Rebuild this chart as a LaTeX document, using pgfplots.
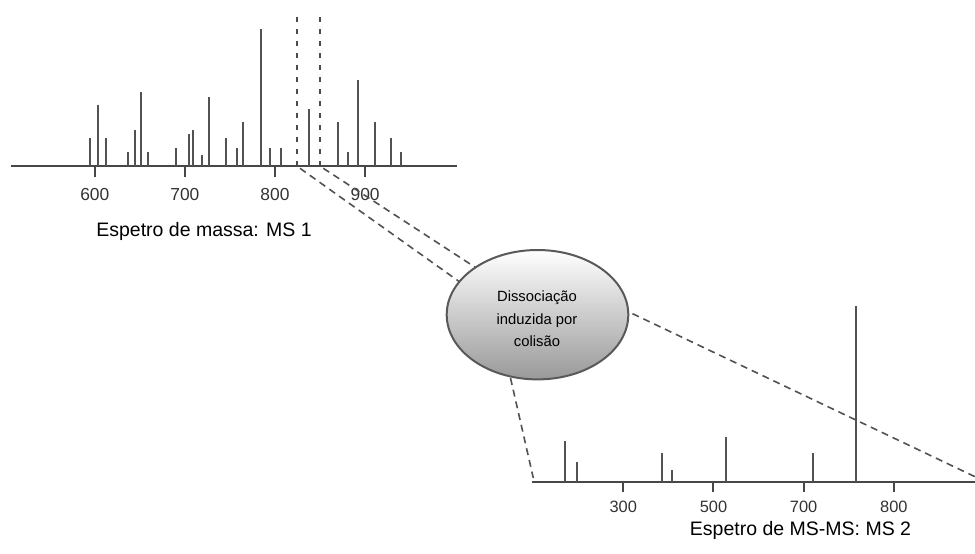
\documentclass[border=0pt]{standalone}
\usepackage{pgfplots}
\pgfplotsset{compat=1.18}
\usepackage{fontspec}
\setmainfont{Liberation Sans}
\begin{document}
\begin{tikzpicture}
\path[use as bounding box] (0,0) rectangle (487.5pt,276.5pt);
% ---- MS 1 spectrum ----
\begin{axis}[
  at={(5.5pt,193.65pt)}, anchor=south west,
  scale only axis, width=223pt, height=82.85pt,
  xmin=507, xmax=1002, ymin=0, ymax=121.5,
  axis x line*=bottom, axis y line=none,
  xtick={600,700,800,900}, tick align=outside, major tick length=5.5pt,
  x axis line style={line width=1pt, black!72},
  xtick style={line width=1pt, black!72},
  xticklabel style={font=\fontsize{8.7}{10}\selectfont, text=black!80, yshift=-2.5pt},
  /pgf/number format/assume math mode=true,
  clip=false,
]
\addplot[ycomb, line width=1pt, black!68, mark=none] coordinates {
(595.2,20.0) (604.1,44.3) (612.2,20.0) (637.3,10.0) (644.3,26.2)
(651.0,53.8) (658.8,10.0) (690.5,13.2) (704.6,23.0) (708.6,26.2)
(719.0,7.6) (726.8,50.6) (746.0,20.0) (757.8,13.2) (764.8,32.3)
(784.0,100) (794.4,13.2) (807.0,13.2) (837.6,41.3) (869.4,32.3)
(880.5,10.0) (891.6,62.8) (911.2,32.3) (928.9,20.0) (940.4,10.0)
};
\draw[black!70, line width=1pt, dash pattern=on 2.5pt off 3.5pt] (axis cs:824.3,0) -- (axis cs:824.3,110);
\draw[black!70, line width=1pt, dash pattern=on 2.5pt off 3.5pt] (axis cs:850.1,0) -- (axis cs:850.1,110);
\end{axis}
% ---- MS 2 spectrum ----
\begin{axis}[
  at={(266pt,35.35pt)}, anchor=south west,
  scale only axis, width=221.5pt, height=88.15pt,
  xmin=198.8, xmax=690, ymin=0, ymax=100,
  axis x line*=bottom, axis y line=none,
  xtick={300,400,500,600}, xticklabels={300,500,700,800},
  tick align=outside, major tick length=5pt,
  x axis line style={line width=1pt, black!72},
  xtick style={line width=1pt, black!72},
  xticklabel style={font=\fontsize{8.2}{10}\selectfont, text=black!80, yshift=-1pt},
  clip=false,
]
\addplot[ycomb, line width=1pt, black!68, mark=none] coordinates {
(235,23.4) (249,11.7) (343.2,16.4) (353.7,7.0) (414.2,25.9) (510,16.4) (558,100)
};
\end{axis}
% ---- connector lines ----
\begin{scope}[x=0.5pt, y=-0.5pt, shift={(0pt,276.5pt)}]
\draw[black!68, line width=0.8pt, dash pattern=on 3.5pt off 2.5pt] (300,168.3) -- (465,285.7);
\draw[black!68, line width=0.8pt, dash pattern=on 3.5pt off 2.5pt] (323.3,168.3) -- (485,273.7);
\draw[black!68, line width=0.8pt, dash pattern=on 3.5pt off 2.5pt] (510.5,378) -- (533.3,478);
\draw[black!68, line width=0.8pt, dash pattern=on 3.5pt off 2.5pt] (600,298.2) -- (975,476.7);
\end{scope}
% ---- ellipse ----
\shade[top color=white, bottom color=black!40, draw=black!65, line width=1pt]
  (268.75pt,119.15pt) ellipse [x radius=45.4pt, y radius=32.35pt];
\node[align=center, inner sep=0pt, font=\fontsize{7.4}{11.25}\selectfont] at (268.5pt,117pt)
  {Dissociação\\induzida por\\colisão};
% ---- captions ----
\node[anchor=base, inner sep=0pt, font=\fontsize{9.75}{12}\selectfont] at (102pt,158.15pt) {Espetro de massa: MS 1};
\node[anchor=base, inner sep=0pt, font=\fontsize{9.75}{12}\selectfont] at (400.25pt,9pt) {Espetro de MS-MS: MS 2};
\end{tikzpicture}
\end{document}
